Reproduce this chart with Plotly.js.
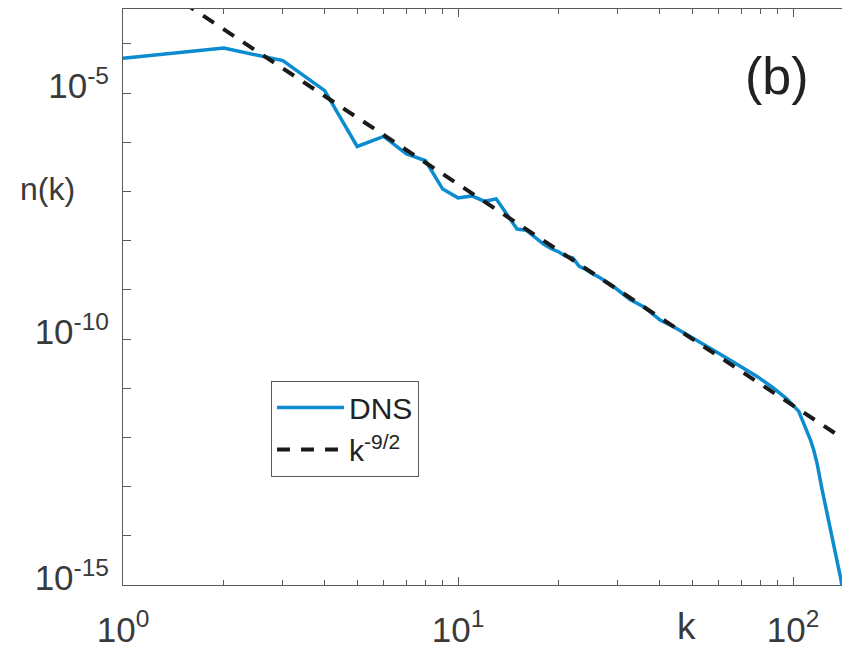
<!DOCTYPE html>
<html>
<head>
<meta charset="utf-8">
<script src="https://cdn.plot.ly/plotly-3.0.1.min.js"></script>
<style>html,body{margin:0;padding:0;background:#fff;}#chart{width:842px;height:649px;}</style>
</head>
<body>
<div id="chart"></div>
<script>
// DNS spectrum n(k)
const kDNS = [1,2,3,4,5,6,7,8,9,10,11,12,13,14,15,16,17,18,19,20,21,22,23,24,25,26.6,29.1,32.7,35.8,40.2,44,50.5,55.4,62.1,69.6,78.1,87.5,96,104,108.8,112.7,115.2,117.9,122.1,126.3,130.7,135.3,139,141];
const nDNS = [5.13e-5,8.22e-5,4.57e-5,1.12e-5,8.22e-7,1.32e-6,5.89e-7,4.21e-7,1.12e-7,7.41e-8,8.13e-8,6.31e-8,7.08e-8,3.36e-8,1.72e-8,1.62e-8,1.17e-8,8.51e-9,6.84e-9,5.89e-9,4.79e-9,4.47e-9,3.02e-9,2.63e-9,2.19e-9,1.74e-9,1.17e-9,6.31e-10,4.57e-10,2.40e-10,1.78e-10,1.05e-10,7.08e-11,4.47e-11,2.75e-11,1.74e-11,1.0e-11,6.03e-12,3.39e-12,1.66e-12,8.91e-13,5.62e-13,3.02e-13,8.71e-14,2.88e-14,9.77e-15,3.31e-15,1.29e-15,6.3e-16];
// reference power law k^-9/2 (end points)
const kFit = [1, 140];
const nFit = [4.47e-3, 9.8e-13];
// tick labels
const yTickVals = [1e-15,1e-14,1e-13,1e-12,1e-11,1e-10,1e-9,1e-8,1e-7,1e-6,1e-5,1e-4];
const yTickText = ['10<sup>-15</sup>','','','','','10<sup>-10</sup>','','','','','10<sup>-5</sup>',''];
const xTickVals = [1,10,100];
const xTickText = ['10<sup>0</sup>','10<sup>1</sup>','10<sup>2</sup>'];
const xMinorVals = [2,3,4,5,6,7,8,9,20,30,40,50,60,70,80,90];

const FONT = 'Liberation Sans, Arial, Helvetica, sans-serif';
const AX = '#5a5a5a';
const TXT = '#3a3a3a';

const traces = [
  {x: kDNS, y: nDNS, type: 'scatter', mode: 'lines', name: 'DNS',
   line: {color: '#0b8bd0', width: 3.5}},
  {x: kFit, y: nFit, type: 'scatter', mode: 'lines', name: 'k<sup>-9/2</sup>',
   line: {color: '#1a1a1a', width: 4, dash: '13px,11px'}}
];

const layout = {
  width: 842, height: 649,
  margin: {l: 123, r: 0, t: 9, b: 64},
  paper_bgcolor: '#fff', plot_bgcolor: '#fff',
  font: {family: FONT, size: 35, color: TXT},
  showlegend: true,
  legend: {x: 0.2058, y: 0.355, xanchor: 'left', yanchor: 'top',
           bgcolor: '#fff', bordercolor: AX, borderwidth: 1,
           font: {family: FONT, size: 30, color: '#222'}, itemwidth: 67,
           tracegroupgap: 0},
  xaxis: {type: 'log', range: [0, Math.log10(140)], showgrid: false, zeroline: false,
          showline: true, linecolor: AX, linewidth: 1, mirror: 'ticks',
          ticks: 'inside', ticklen: 8, tickcolor: AX, tickwidth: 1,
          tickmode: 'array', tickvals: xTickVals, ticktext: xTickText,
          tickfont: {family: FONT, size: 35, color: TXT}, ticklabelstandoff: 14,
          minor: {tickmode: 'array', tickvals: xMinorVals, ticks: 'inside', ticklen: 5, tickcolor: AX, tickwidth: 1, showgrid: false}},
  yaxis: {type: 'log', range: [-15, -3.29], showgrid: false, zeroline: false,
          showline: true, linecolor: AX, linewidth: 1, mirror: false,
          ticks: 'inside', ticklen: 8, tickcolor: AX, tickwidth: 1,
          tickmode: 'array', tickvals: yTickVals, ticktext: yTickText,
          tickfont: {family: FONT, size: 35, color: TXT}, ticklabelstandoff: 6, ticklabelshift: -7},
  annotations: [
    {text: 'n(k)', xref: 'paper', yref: 'paper', x: -0.105, y: 0.688, showarrow: false,
     xanchor: 'center', yanchor: 'middle', font: {family: FONT, size: 32, color: TXT}},
    {text: 'k', xref: 'paper', yref: 'paper', x: 0.7837, y: -0.0715, showarrow: false,
     xanchor: 'center', yanchor: 'middle', font: {family: FONT, size: 37, color: TXT}},
    {text: '(b)', xref: 'paper', yref: 'paper', x: 0.909, y: 0.884, showarrow: false,
     xanchor: 'center', yanchor: 'middle', font: {family: FONT, size: 52, color: '#222'}}
  ]
};

Plotly.newPlot('chart', traces, layout, {displayModeBar: false, staticPlot: true});
</script>
</body>
</html>
